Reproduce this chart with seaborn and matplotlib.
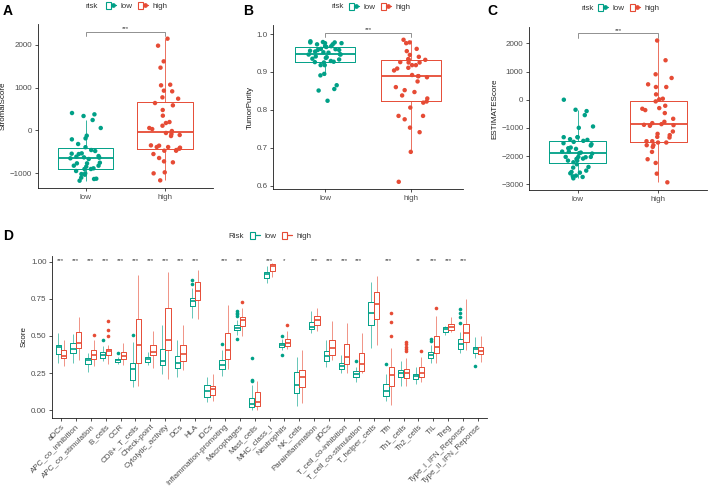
import numpy as np
import pandas as pd
import matplotlib
matplotlib.use("Agg")
import matplotlib.pyplot as plt
import seaborn as sns
from matplotlib.patches import Patch
from matplotlib.lines import Line2D
from matplotlib.legend_handler import HandlerTuple

# ------------------------------------------------------------------ data
RISK = ["low", "high"]

A_low = [406, 375, 336, 242, 55, -125, -188, -211, -320, -395, -461, -484, -539,
         -547, -555, -602, -617, -633, -640, -655, -672, -758, -773, -773, -828,
         -828, -851, -890, -906, -906, -953, -1008, -1023, -1039, -1109, -1133,
         -1140, -1180]
A_high = [2148, 1984, 1617, 1469, 1070, 1055, 930, 914, 773, 742, 640, 586, 477,
          344, 195, 172, 109, 55, 30, -16, -62, -86, -109, -133, -352, -359, -391,
          -391, -406, -430, -461, -477, -477, -555, -648, -727, -750, -984, -1008,
          -1172]

B_low = [0.981, 0.978, 0.979, 0.973, 0.976, 0.966, 0.968, 0.978, 0.973, 0.976,
         0.968, 0.960, 0.961, 0.956, 0.958, 0.958, 0.954, 0.952, 0.947, 0.946,
         0.951, 0.946, 0.941, 0.939, 0.933, 0.935, 0.937, 0.927, 0.929, 0.925,
         0.926, 0.918, 0.918, 0.895, 0.891, 0.865, 0.855, 0.851, 0.824]
B_high = [0.985, 0.978, 0.976, 0.961, 0.955, 0.945, 0.940, 0.934, 0.932, 0.926,
          0.925, 0.925, 0.932, 0.918, 0.918, 0.911, 0.904, 0.909, 0.889, 0.892,
          0.889, 0.886, 0.875, 0.860, 0.852, 0.847, 0.838, 0.830, 0.822, 0.819,
          0.806, 0.784, 0.784, 0.775, 0.753, 0.741, 0.689, 0.610]

C_low = [0, -403, -356, -546, -949, -996, -1329, -1329, -1400, -1329, -1459, -1424,
         -1495, -1542, -1696, -1625, -1720, -1744, -1578, -1839, -1874, -1910,
         -1839, -1898, -2028, -2028, -2028, -2040, -2088, -2100, -2159, -2159,
         -2218, -2289, -2408, -2384, -2515, -2562, -2586, -2610, -2693, -2716,
         -2740, -2788]
C_high = [2100, 1400, 902, 771, 546, 451, 451, 190, 36, 12, -59, -320, -368, -214,
          -297, -474, -676, -783, -890, -830, -866, -925, -902, -1127, -1257, -1210,
          -1340, -1471, -1471, -1317, -1518, -1518, -1613, -1613, -1673, -1850,
          -2111, -2242, -2622, -2930]

cells = ["aDCs", "APC_co_inhibition", "APC_co_stimulation", "B_cells", "CCR",
         "CD8+_T_cells", "Check-point", "Cytolytic_activity", "DCs", "HLA", "iDCs",
         "Inflammation-promoting", "Macrophages", "Mast_cells", "MHC_class_I",
         "Neutrophils", "NK_cells", "Parainflammation", "pDCs",
         "T_cell_co-inhibition", "T_cell_co-stimulation", "T_helper_cells", "Tfh",
         "Th1_cells", "Th2_cells", "TIL", "Treg", "Type_I_IFN_Reponse",
         "Type_II_IFN_Reponse"]

# box statistics (whisker low, Q1, median, Q3, whisker high)
D_low_lo  = [.315, .32, .26, .33, .312, .155, .307, .242, .222, .62, .058, .231, .505, .005, .858,
             .405, .029, .518, .293, .249, .188, .421, .065, .162, .177, .32, .506, .383, .35]
D_low_q1  = [.38, .385, .31, .355, .327, .205, .325, .303, .282, .70, .092, .276, .54, .024, .89,
             .424, .114, .545, .332, .276, .224, .574, .096, .226, .213, .35, .529, .41, .383]
D_low_med = [.428, .415, .335, .37, .338, .275, .343, .334, .32, .732, .128, .305, .555, .045, .915,
             .437, .17, .562, .365, .298, .244, .652, .132, .253, .231, .374, .547, .446, .41]
D_low_q3  = [.44, .45, .355, .39, .348, .315, .357, .415, .365, .755, .17, .338, .575, .085, .93,
             .45, .26, .596, .399, .32, .262, .73, .177, .271, .245, .394, .558, .477, .428]
D_low_hi  = [.52, .51, .385, .43, .36, .46, .39, .572, .473, .82, .224, .405, .61, .17, .97,
             .477, .36, .668, .473, .372, .293, .865, .244, .332, .289, .439, .565, .529, .491]
D_low_out = [[], [], [], [.475], [.386], [.505], [], [], [], [.847, .878], [], [.444],
             [.48, .635, .645, .655, .665], [.20, .207, .35], [], [.37, .502], [], [], [],
             [], [.33], [], [.311], [], [], [.468, .477], [], [.585, .629, .652, .679], [.30]]

D_high_lo  = [.30, .34, .30, .31, .305, .165, .283, .21, .271, .615, .065, .276, .50, .0, .90,
              .41, .047, .533, .338, .249, .249, .439, .036, .163, .192, .32, .529, .405, .327]
D_high_q1  = [.35, .42, .345, .37, .348, .315, .37, .406, .332, .74, .102, .345, .567, .028, .937,
              .432, .155, .574, .372, .309, .266, .612, .166, .215, .222, .385, .54, .457, .379]
D_high_med = [.365, .45, .372, .40, .368, .44, .393, .473, .381, .80, .14, .405, .605, .058, .972,
              .455, .226, .607, .421, .36, .309, .715, .235, .249, .253, .428, .562, .518, .401]
D_high_q3  = [.405, .525, .405, .415, .392, .615, .437, .69, .437, .865, .165, .52, .628, .123, .984,
              .482, .271, .632, .473, .444, .387, .798, .293, .276, .289, .50, .58, .578, .428]
D_high_hi  = [.47, .63, .47, .44, .455, .91, .535, .93, .574, .945, .244, .708, .69, .20, .99,
              .53, .405, .69, .60, .589, .522, .903, .417, .35, .356, .634, .63, .746, .50]
D_high_out = [[], [], [.505], [.50, .54, .60], [], [], [], [], [], [], [], [], [.73], [], [],
              [.575], [], [], [], [], [], [], [.50, .596, .652], [.397, .413, .428, .444, .46],
              [.401], [.686], [], [], []]

D_sig = ["***"] * 10 + ["", "***", "***", "", "***", "*", "", "***", "***", "***", "***",
                        "", "***", "", "**", "***", "***", "***", ""]

# ------------------------------------------------------------------ style
sns.set_theme(style="ticks")
plt.rcParams["font.family"] = ["Liberation Sans", "DejaVu Sans"]
PAL = {"low": "#00A087", "high": "#E64B35"}
FS = 5.8
FS_STAR = 4.4
TXT = "#4d4d4d"
W, H = 708, 498


def fx(px):
    return px / W


def fy(py):
    return 1 - py / H


fig = plt.figure(figsize=(W / 100, H / 100), dpi=100)
fig.patch.set_facecolor("white")


def style_axis(ax):
    sns.despine(ax=ax)
    for s in ["left", "bottom"]:
        ax.spines[s].set_linewidth(0.6)
        ax.spines[s].set_color("#1a1a1a")
    ax.tick_params(axis="both", length=2.5, width=0.6, color="#333333",
                   labelsize=FS, labelcolor=TXT, pad=1.5)
    ax.set_xlabel("")


def restyle_lines(ax, whisker_alpha):
    for ln in ax.lines:
        x = np.asarray(ln.get_xdata(), dtype=float)
        y = np.asarray(ln.get_ydata(), dtype=float)
        if ln.get_marker() not in (None, "", "None") and ln.get_linestyle() in ("None", ""):
            ln.set_markerfacecolor(ln.get_markeredgecolor())
            ln.set_markeredgewidth(0)
        elif len(x) == 2 and np.isclose(x[0], x[1]):
            ln.set_alpha(whisker_alpha)


def add_legend(title, title_x, leg_x, y, with_dot):
    fig.text(fx(title_x), fy(y), title, ha="left", va="center", fontsize=FS, color="#333333")
    handles = []
    for r in RISK:
        box = Patch(facecolor="white", edgecolor=PAL[r], linewidth=0.8)
        mid = Line2D([], [], color=PAL[r], marker="o" if with_dot else None,
                     markersize=2.4, linewidth=0.9)
        handles.append((box, mid))
    fig.legend(handles, RISK, loc="center left", bbox_to_anchor=(fx(leg_x), fy(y)),
               ncol=2, frameon=False, fontsize=FS, labelcolor="#333333",
               handler_map={tuple: HandlerTuple(ndivide=None)},
               handlelength=1.2, handleheight=1.05, handletextpad=0.55,
               columnspacing=0.75, borderpad=0, borderaxespad=0)


def top_panel(rect, low, high, ylabel, ylim, yticks, ytl, letter, letter_x, leg):
    ax = fig.add_axes(rect)
    df = pd.DataFrame({"risk": ["low"] * len(low) + ["high"] * len(high),
                       "value": list(low) + list(high)})
    sns.boxplot(data=df, x="risk", y="value", hue="risk", order=RISK, hue_order=RISK,
                palette=PAL, fill=False, width=0.7, showfliers=False, showcaps=False,
                linewidth=0.7, medianprops=dict(linewidth=1.3), legend=False, ax=ax)
    np.random.seed(7)
    sns.stripplot(data=df, x="risk", y="value", hue="risk", order=RISK, hue_order=RISK,
                  palette=PAL, jitter=0.2, size=3.2, linewidth=0, legend=False, ax=ax,
                  zorder=3)
    restyle_lines(ax, 0.8)
    allv = np.asarray(low + high, dtype=float)
    rng = allv.max() - allv.min()
    yb = allv.max() + 0.05 * rng
    tip = 0.03 * rng
    ax.plot([0, 0, 1, 1], [yb - tip, yb, yb, yb - tip], color="#7f7f7f", lw=0.6,
            solid_joinstyle="miter")
    ax.text(0.5, yb + 0.004 * rng, "***", ha="center", va="bottom", fontsize=FS_STAR,
            color="#333333")
    ax.set_xlim(-0.6, 1.6)
    ax.set_ylim(*ylim)
    ax.set_yticks(yticks)
    ax.set_yticklabels(ytl)
    ax.set_ylabel(ylabel, fontsize=FS, color="#1a1a1a", labelpad=2)
    style_axis(ax)
    fig.text(fx(letter_x), fy(4), letter, ha="left", va="top", fontsize=10,
             fontweight="bold", color="black")
    add_legend("risk", leg[0], leg[1], leg[2], True)
    return ax


top_panel([fx(37.7), fy(188), (213 - 37.7) / W, (188 - 24) / H], A_low, A_high,
          "StromalScore", (-1351, 2492), [-1000, 0, 1000, 2000],
          ["\u22121000", "0", "1000", "2000"], "A", 3, (86, 106, 6))
top_panel([fx(273.3), fy(189), (463 - 273.3) / W, (189 - 25) / H], B_low, B_high,
          "TumorPurity", (0.591, 1.024), [0.6, 0.7, 0.8, 0.9, 1.0],
          ["0.6", "0.7", "0.8", "0.9", "1.0"], "B", 243, (331.5, 349, 7))
top_panel([fx(529), fy(190), (707 - 529) / W, (190 - 26.7) / H], C_low, C_high,
          "ESTIMATEScore", (-3202, 2590), [-3000, -2000, -1000, 0, 1000, 2000],
          ["\u22123000", "\u22122000", "\u22121000", "0", "1000", "2000"], "C", 487,
          (581, 598, 8))

# ------------------------------------------------------------------ panel D
REP = 10
rows = []
for i, c in enumerate(cells):
    for r, lo, q1, md, q3, hi, out in (
            ("low", D_low_lo[i], D_low_q1[i], D_low_med[i], D_low_q3[i], D_low_hi[i], D_low_out[i]),
            ("high", D_high_lo[i], D_high_q1[i], D_high_med[i], D_high_q3[i], D_high_hi[i], D_high_out[i])):
        vals = [lo] + [q1] * REP + [md] * REP + [q3] * REP + [hi] + list(out)
        rows += [(c, r, v) for v in vals]
dfD = pd.DataFrame(rows, columns=["cell", "Risk", "Score"])

axD = fig.add_axes([fx(52), fy(417.7), (487 - 52) / W, (417.7 - 255.7) / H])
sns.boxplot(data=dfD, x="cell", y="Score", hue="Risk", order=cells, hue_order=RISK,
            palette=PAL, fill=False, width=0.75, gap=0.06, showcaps=False, linewidth=0.7,
            medianprops=dict(linewidth=1.2),
            flierprops=dict(marker="o", markersize=2.6), legend=False, ax=axD)
restyle_lines(axD, 0.6)
for i, s in enumerate(D_sig):
    if s:
        axD.text(i, 1.008, s, ha="center", va="center", fontsize=FS_STAR, color="#333333")
axD.set_xlim(-0.6, len(cells) - 0.4)
axD.set_ylim(-0.05, 1.04)
axD.set_yticks([0, 0.25, 0.5, 0.75, 1.0])
axD.set_yticklabels(["0.00", "0.25", "0.50", "0.75", "1.00"])
axD.set_ylabel("Score", fontsize=FS, color="#1a1a1a", labelpad=2)
style_axis(axD)
axD.set_xticks(range(len(cells)))
axD.set_xticklabels(cells, rotation=45, ha="right", va="top", rotation_mode="anchor")
fig.text(fx(3), fy(229), "D", ha="left", va="top", fontsize=10, fontweight="bold",
         color="black")
add_legend("Risk", 228, 250, 236, False)

fig.savefig("out.png", dpi=100, facecolor="white")
